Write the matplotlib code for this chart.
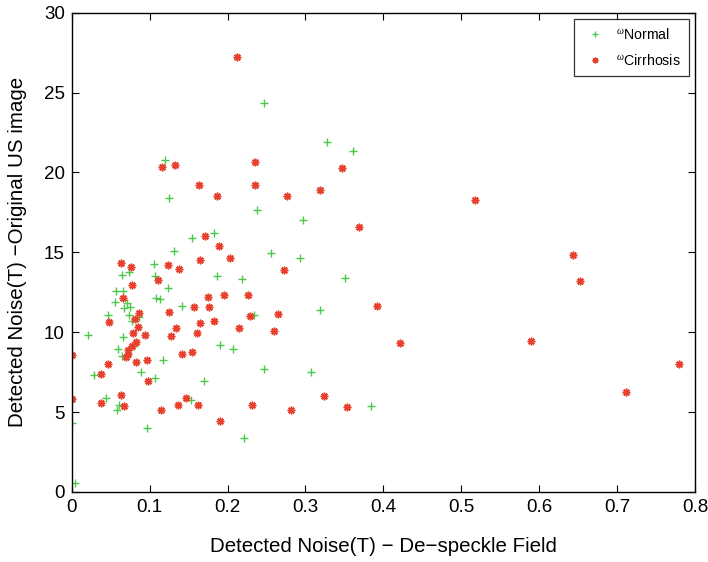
import matplotlib
matplotlib.use("Agg")
import matplotlib.pyplot as plt

plt.rcParams['font.family'] = ['Liberation Sans', 'DejaVu Sans']
plt.rcParams['mathtext.fontset'] = 'custom'
plt.rcParams['mathtext.rm'] = 'Liberation Serif'
plt.rcParams['mathtext.it'] = 'Liberation Serif:italic'

# Detected noise: de-speckle field (x) vs original US image (y)
normal_x = [0.120, 0.1249, 0.1548, 0.1826, 0.131, 0.106, 0.0642, 0.0732, 0.1073,
            0.187, 0.218, 0.238, 0.1232, 0.0569, 0.0663, 0.056, 0.1078, 0.1138,
            0.0706, 0.0671, 0.0748, 0.1412, 0.0462, 0.074, 0.0774, 0.0864, 0.2344,
            0.0213, 0.0658, 0.0598, 0.0642, 0.080, 0.1176, 0.1907, 0.2067, 0.0282,
            0.0889, 0.1065, 0.1698, 0.0444, 0.0603, 0.0585, 0.1535, 0.0963, 0.2212,
            0.001, 0.0042, 0.2468, 0.3277, 0.3607, 0.2973, 0.2558, 0.2934, 0.3508,
            0.3191, 0.2468, 0.3072, 0.3837]
normal_y = [20.8, 18.42, 15.9, 16.2, 15.08, 14.29, 13.6, 13.75, 13.54,
            13.54, 13.31, 17.67, 12.75, 12.56, 12.6, 11.92, 12.14, 12.08,
            11.86, 11.52, 11.58, 11.65, 11.06, 11.06, 10.71, 10.96, 11.06,
            9.81, 9.67, 8.98, 8.5, 9.125, 8.29, 9.19, 8.98, 7.31,
            7.5, 7.14, 6.94, 5.875, 5.42, 5.125, 5.75, 4.0, 3.375,
            4.29, 0.56, 24.375, 21.92, 21.35, 17.04, 14.98, 14.65, 13.375,
            11.42, 7.71, 7.48, 5.4]

cirr_x = [0.1163, 0.132, 0.2357, 0.1638, 0.2357, 0.1865, 0.1707, 0.1887, 0.0629,
          0.0761, 0.1651, 0.2028, 0.1236, 0.1381, 0.1104, 0.0774, 0.0658, 0.1753,
          0.1951, 0.2267, 0.1566, 0.1758, 0.1249, 0.0864, 0.0816, 0.0475, 0.0847,
          0.1335, 0.1651, 0.1826, 0.2151, 0.2289, 0.0791, 0.0945, 0.1278, 0.1604,
          0.0, 0.0829, 0.0774, 0.0719, 0.0727, 0.0693, 0.142, 0.1548, 0.047,
          0.0829, 0.0963, 0.0372, 0.0975, 0.0, 0.0629, 0.0372, 0.0675, 0.115,
          0.1463, 0.1364, 0.1625, 0.2314, 0.1907, 0.2126, 0.3466, 0.276, 0.3191,
          0.3692, 0.2729, 0.2644, 0.26, 0.3923, 0.4214, 0.3234, 0.2819, 0.3538,
          0.5177, 0.6438, 0.6528, 0.5895, 0.7795, 0.7119]
cirr_y = [20.37, 20.46, 20.67, 19.19, 19.19, 18.5, 16.04, 15.42, 14.36,
          14.08, 14.52, 14.65, 14.23, 13.94, 13.25, 12.96, 12.14, 12.19,
          12.33, 12.33, 11.56, 11.56, 11.27, 11.21, 10.85, 10.67, 10.31,
          10.27, 10.58, 10.73, 10.27, 11.02, 9.96, 9.81, 9.75, 9.96,
          8.56, 9.375, 9.125, 8.875, 8.625, 8.42, 8.625, 8.75, 8.0,
          8.15, 8.25, 7.375, 6.94, 5.81, 6.1, 5.54, 5.4, 5.125,
          5.9, 5.46, 5.46, 5.46, 4.42, 27.25, 20.31, 18.54, 18.92,
          16.6, 13.875, 11.14, 10.1, 11.625, 9.31, 6.02, 5.1, 5.33,
          18.29, 14.85, 13.23, 9.46, 7.98, 6.23]

x_ticks = [0, 0.1, 0.2, 0.3, 0.4, 0.5, 0.6, 0.7, 0.8]
x_tick_labels = ['0', '0.1', '0.2', '0.3', '0.4', '0.5', '0.6', '0.7', '0.8']
y_ticks = [0, 5, 10, 15, 20, 25, 30]

green = '#4cc94c'
red = '#e8402c'

fig = plt.figure(figsize=(7.08, 5.62), dpi=100)
ax = fig.add_axes([0.1013, 0.1246, 0.8803, 0.8528])

ax.plot(normal_x, normal_y, linestyle='none', marker='+', markersize=6,
        markeredgewidth=1.0, color=green, label=r'$^{\omega}$Normal')
ax.plot(cirr_x, cirr_y, linestyle='none', marker=(8, 2, 0), markersize=5.5,
        markeredgewidth=1.1, color=red, label=r'$^{\omega}$Cirrhosis')

ax.set_xlim(0, 0.8)
ax.set_ylim(0, 30)
ax.set_xticks(x_ticks)
ax.set_xticklabels(x_tick_labels)
ax.set_yticks(y_ticks)
ax.tick_params(direction='in', top=True, right=True, length=5, width=0.8,
               labelsize=13.5, pad=5)
for s in ax.spines.values():
    s.set_linewidth(1.0)

ax.set_xlabel('Detected Noise(T) \u2212 De\u2212speckle Field', fontsize=14.8, labelpad=15)
ax.set_ylabel('Detected Noise(T) \u2212Original US image', fontsize=14.8, labelpad=12)

leg = ax.legend(loc='upper right', fontsize=10.2, frameon=True, fancybox=False,
                edgecolor='black', borderpad=0.55, handlelength=1.8,
                handletextpad=0.6, labelspacing=0.8, borderaxespad=0.45,
                markerscale=0.75)
leg.get_frame().set_linewidth(0.9)

fig.savefig('out.png', dpi=100)
